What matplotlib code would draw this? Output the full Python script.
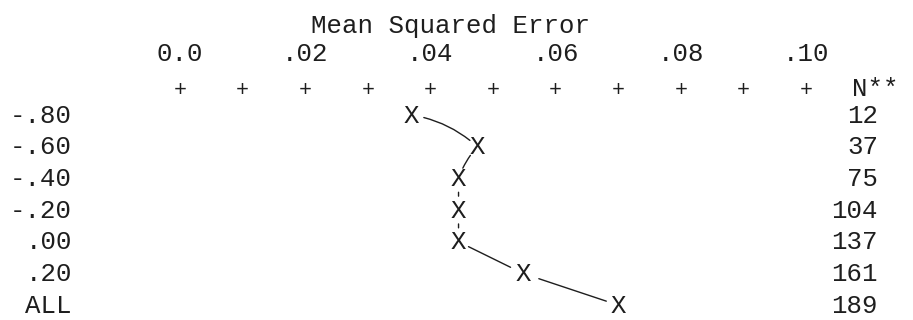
import matplotlib
matplotlib.use("Agg")
import matplotlib.pyplot as plt

# ---- data ----
row_labels = ['-.80', '-.60', '-.40', '-.20', '.00', '.20', 'ALL']
mse = [0.037, 0.0475, 0.0445, 0.0445, 0.0445, 0.0548, 0.0700]
n_values = [12, 37, 75, 104, 137, 161, 189]
tick_values = [0.0, 0.02, 0.04, 0.06, 0.08, 0.10]
tick_labels = ['0.0', '.02', '.04', '.06', '.08', '.10']
plus_values = [0.0, 0.01, 0.02, 0.03, 0.04, 0.05, 0.06, 0.07, 0.08, 0.09, 0.10]
title = 'Mean Squared Error'
n_header = 'N**'

FONT = 'Liberation Mono'
FS = 18.5
INK = '#1e1e1e'

fig = plt.figure(figsize=(9.13, 3.2), dpi=100)
ax = fig.add_axes([0, 0, 1, 1])
ax.set_xlim(-0.02875, 0.1171)
ax.set_ylim(6.47, -3.63)
ax.axis('off')

base = 0.24  # baseline offset so glyphs are centred on rows

# title and x scale
ax.text(0.0432, -2.84 + base, title, ha='center', va='baseline',
        fontsize=FS, family=FONT, color=INK)
for v, lab in zip(tick_values, tick_labels):
    ax.text(v, -1.96 + base, lab, ha='center', va='baseline',
            fontsize=FS, family=FONT, color=INK)
for v in plus_values:
    ax.text(v, -0.85 + base, '+', ha='center', va='baseline',
            fontsize=FS - 3, family=FONT, color=INK)
ax.text(0.10735, -0.85 + base, n_header, ha='left', va='baseline',
        fontsize=FS, family=FONT, color=INK)

# row labels and N column
for i, (lab, n) in enumerate(zip(row_labels, n_values)):
    ax.text(-0.01725, i + base, lab, ha='right', va='baseline',
            fontsize=FS, family=FONT, color=INK)
    ax.text(0.1115, i + base, str(n), ha='right', va='baseline',
            fontsize=FS, family=FONT, color=INK)

# X marks
for i, v in enumerate(mse):
    ax.text(v, i + base, 'X', ha='center', va='baseline',
            fontsize=FS, family=FONT, color=INK)

# hand-drawn connecting strokes
rads = [-0.15, 0.1, 0.0, 0.0, 0.0, 0.0]
shrinks = [(9, 7), (8, 8), (10, 10), (10, 10), (8, 10), (12, 9)]
for i in range(len(mse) - 1):
    ax.annotate('', xy=(mse[i + 1], i + 1), xytext=(mse[i], i),
                arrowprops=dict(arrowstyle='-', color=INK, lw=1.0,
                                shrinkA=shrinks[i][0], shrinkB=shrinks[i][1],
                                connectionstyle='arc3,rad=%s' % rads[i]))

fig.savefig('out.png', dpi=100, facecolor='white')
